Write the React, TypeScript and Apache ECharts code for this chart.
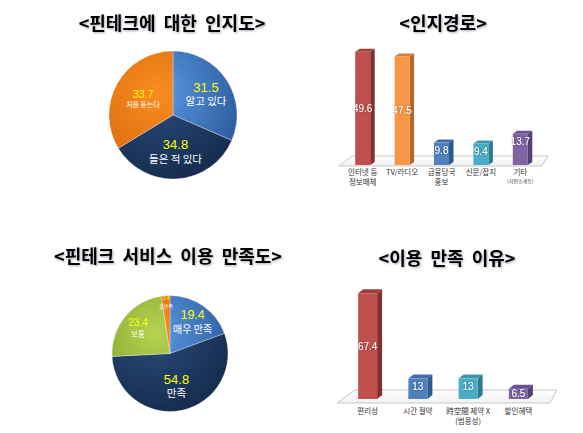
import React, { useEffect, useRef } from 'react';
import * as echarts from 'echarts';

// ---------- data ----------
const awarenessNames = ['알고 있다', '들은 적 있다', '처음 듣는다'];
const awarenessValues = [31.5, 34.8, 33.7];

const channelCategories = ['인터넷 등\n정보매체', 'TV/라디오', '금융당국\n홍보', '신문/잡지', '기타\n(지인소개등)'];
const channelValues = [49.6, 47.5, 9.8, 9.4, 13.7];

const satisfactionNames = ['매우 만족', '만족', '보통', '불만족'];
const satisfactionValues = [19.4, 54.8, 23.4, 2.4];

const reasonCategories = ['편리성', '시간 절약', '時空間 제약 X\n(범용성)', '할인혜택'];
const reasonValues = [67.4, 13, 13, 6.5];

const titles = ['<핀테크에  대한  인지도>', '<인지경로>', '<핀테크  서비스  이용  만족도>', '<이용  만족  이유>'];

// ---------- styles ----------
const KR = '"Noto Sans CJK KR", "Noto Sans", sans-serif';
const RED = ['#c0504d', '#82302e', '#a03f3c'];
const ORANGE = ['#f79646', '#b5672c', '#dd7f33'];
const BLUE = ['#4f81bd', '#2d5a8e', '#3f6ea7'];
const TEAL = ['#4bacc6', '#2c7a90', '#3a97b0'];
const PURPLE = ['#8064a2', '#553f75', '#6c5290'];
const channelColors = [RED, ORANGE, BLUE, TEAL, PURPLE];
const reasonColors = [RED, BLUE, TEAL, PURPLE];

const pieGrad = (cx: number, cy: number, r: number, light: string, dark: string) => ({
  type: 'radial',
  x: cx - 0.25 * r,
  y: cy - 0.35 * r,
  r: 1.35 * r,
  global: true,
  colorStops: [
    { offset: 0, color: light },
    { offset: 1, color: dark },
  ],
});

const PIE_BLUE = ['#5c9ae6', '#2e5e9f'];
const PIE_NAVY = ['#2a4c7c', '#172e50'];
const PIE_ORANGE = ['#f98c22', '#d9690a'];
const PIE_GREEN = ['#b6d350', '#7f9e2c'];

function bar3d(frontW: number, dx: number, dy: number, colors: string[][]) {
  return (params: any, api: any) => {
    const idx = api.value(0);
    const val = api.value(1);
    const base = api.coord([idx, 0]);
    const top = api.coord([idx, val]);
    const x0 = base[0] - frontW / 2;
    const x1 = base[0] + frontW / 2;
    const y0 = top[1];
    const y1 = base[1];
    const h = y1 - y0;
    const c = colors[params.dataIndex];
    const labelY = h > 40 ? (y0 + y1) / 2 : y0 + Math.min(h / 2, 8);
    return {
      type: 'group',
      children: [
        {
          type: 'polygon',
          shape: { points: [[x1, y0], [x1 + dx, y0 - dy], [x1 + dx, y1 - dy], [x1, y1]] },
          style: { fill: c[1] },
        },
        {
          type: 'polygon',
          shape: { points: [[x0, y0], [x0 + dx, y0 - dy], [x1 + dx, y0 - dy], [x1, y0]] },
          style: { fill: c[2] },
        },
        {
          type: 'rect',
          shape: { x: x0, y: y0, width: frontW, height: h },
          style: { fill: c[0] },
        },
        {
          type: 'text',
          x: base[0],
          y: labelY,
          style: {
            text: String(val),
            fill: '#ffffff',
            fontSize: 10,
            fontFamily: 'Arial, "Liberation Sans", sans-serif',
            align: 'center',
            verticalAlign: 'middle',
            textShadowColor: 'rgba(0,0,0,0.45)',
            textShadowBlur: 2,
          },
        },
      ],
    };
  };
}

function labelPie(
  center: number[],
  r: number,
  values: number[],
  names: string[],
  i: number,
  f: number,
  vSize: number,
  nSize: number
) {
  return {
    type: 'pie',
    center,
    radius: [0, 2 * f * r],
    startAngle: 90,
    clockwise: true,
    silent: true,
    z: 5,
    avoidLabelOverlap: false,
    itemStyle: { color: 'rgba(0,0,0,0)', borderWidth: 0 },
    labelLine: { show: false },
    emphasis: { disabled: true },
    label: {
      show: true,
      position: 'inside',
      formatter: (p: any) => `{v|${p.value}}\n{n|${p.name}}`,
      rich: {
        v: { fontSize: vSize, color: '#ffff00', fontFamily: 'Arial, "Liberation Sans", sans-serif', lineHeight: vSize + 2 },
        n: { fontSize: nSize, color: '#ffffff', fontFamily: KR, lineHeight: nSize + 2 },
      },
    },
    data: values.map((v, k) => ({ value: v, name: names[k], label: { show: k === i } })),
  };
}

export default function App() {
  const ref = useRef<HTMLDivElement>(null);

  useEffect(() => {
    document.body.style.margin = '0';
    if (!ref.current) return;
    const chart = echarts.init(ref.current, undefined, { renderer: 'svg' });

    const p1c = [173, 115];
    const p1r = 64;
    const p2c = [170, 353.5];
    const p2r = 58;

    const p1Colors = [PIE_BLUE, PIE_NAVY, PIE_ORANGE];
    const p2Colors = [PIE_BLUE, PIE_NAVY, PIE_GREEN, PIE_ORANGE];

    const titleStyle = (text: string, x: number, y: number) => ({
      type: 'text',
      x,
      y,
      z: 10,
      style: {
        text,
        fill: '#000000',
        font: `bold 18px ${KR}`,
        align: 'center',
        verticalAlign: 'middle',
        textAlign: 'center',
        textVerticalAlign: 'middle',
        textShadowColor: 'rgba(0,0,40,0.35)',
        textShadowBlur: 2,
        textShadowOffsetX: 1,
        textShadowOffsetY: 1,
      },
    });

    const floorFill = {
      type: 'linear',
      x: 0,
      y: 0,
      x2: 0,
      y2: 1,
      colorStops: [
        { offset: 0, color: '#ffffff' },
        { offset: 1, color: '#f1f1f1' },
      ],
    };

    const option: any = {
      animation: false,
      backgroundColor: '#ffffff',
      graphic: [
        titleStyle(titles[0], 172, 22),
        titleStyle(titles[1], 443, 22),
        titleStyle(titles[2], 168, 255),
        titleStyle(titles[3], 447, 257),
        {
          type: 'polygon',
          z: 0,
          shape: { points: [[339, 166], [352, 156], [548, 156], [542, 166]] },
          style: { fill: floorFill, stroke: '#c8c8c8', lineWidth: 1 },
        },
        {
          type: 'polygon',
          z: 0,
          shape: { points: [[337, 403], [355, 390], [557, 390], [550, 403]] },
          style: { fill: floorFill, stroke: '#c8c8c8', lineWidth: 1 },
        },
      ],
      grid: [
        { left: 343, width: 197, top: 28, height: 137 },
        { left: 342.5, width: 201, top: 273.4, height: 125.6 },
      ],
      xAxis: [
        {
          gridIndex: 0,
          type: 'category',
          data: channelCategories,
          axisLine: { show: false },
          axisTick: { show: false },
          axisLabel: {
            margin: 2,
            interval: 0,
            formatter: (v: string) => {
              const parts = v.split('\n');
              return parts
                .map((s, k) => (k > 0 && s.startsWith('(') ? `{s|${s}}` : `{m|${s}}`))
                .join('\n');
            },
            rich: {
              m: { fontSize: 7.5, color: '#333333', fontFamily: KR, lineHeight: 9.5 },
              s: { fontSize: 5, color: '#333333', fontFamily: KR, lineHeight: 8 },
            },
          },
        },
        {
          gridIndex: 1,
          type: 'category',
          data: reasonCategories,
          axisLine: { show: false },
          axisTick: { show: false },
          axisLabel: {
            margin: 7,
            interval: 0,
            fontSize: 7.5,
            lineHeight: 9.5,
            color: '#333333',
            fontFamily: KR,
          },
        },
      ],
      yAxis: [
        { gridIndex: 0, type: 'value', min: 0, max: 60, show: false },
        { gridIndex: 1, type: 'value', min: 0, max: 80, show: false },
      ],
      series: [
        {
          type: 'pie',
          center: p1c,
          radius: [0, p1r],
          startAngle: 90,
          clockwise: true,
          silent: true,
          label: { show: false },
          labelLine: { show: false },
          itemStyle: { borderColor: 'rgba(255,255,255,0.3)', borderWidth: 1 },
          data: awarenessValues.map((v, i) => ({
            value: v,
            name: awarenessNames[i],
            itemStyle: { color: pieGrad(p1c[0], p1c[1], p1r, p1Colors[i][0], p1Colors[i][1]) },
          })),
        },
        labelPie(p1c, p1r, awarenessValues, awarenessNames, 0, 0.57, 13, 10.5),
        labelPie(p1c, p1r, awarenessValues, awarenessNames, 1, 0.52, 13, 10.5),
        labelPie(p1c, p1r, awarenessValues, awarenessNames, 2, 0.49, 10.5, 7),
        {
          type: 'pie',
          center: p2c,
          radius: [0, p2r],
          startAngle: 90,
          clockwise: true,
          silent: true,
          label: { show: false },
          labelLine: { show: false },
          itemStyle: { borderColor: 'rgba(255,255,255,0.3)', borderWidth: 1 },
          data: satisfactionValues.map((v, i) => ({
            value: v,
            name: satisfactionNames[i],
            itemStyle: { color: pieGrad(p2c[0], p2c[1], p2r, p2Colors[i][0], p2Colors[i][1]) },
          })),
        },
        labelPie(p2c, p2r, satisfactionValues, satisfactionNames, 0, 0.63, 12.5, 10),
        labelPie(p2c, p2r, satisfactionValues, satisfactionNames, 1, 0.51, 13, 10.5),
        labelPie(p2c, p2r, satisfactionValues, satisfactionNames, 2, 0.66, 10, 7.5),
        labelPie(p2c, p2r, satisfactionValues, satisfactionNames, 3, 0.84, 5, 5),
        {
          type: 'custom',
          xAxisIndex: 0,
          yAxisIndex: 0,
          silent: true,
          renderItem: bar3d(15, 4.5, 3, channelColors),
          data: channelValues.map((v, i) => [i, v]),
          z: 3,
        },
        {
          type: 'custom',
          xAxisIndex: 1,
          yAxisIndex: 1,
          silent: true,
          renderItem: bar3d(19, 5, 4, reasonColors),
          data: reasonValues.map((v, i) => [i, v]),
          z: 3,
        },
      ],
    };

    chart.setOption(option);
    return () => chart.dispose();
  }, []);

  return (
    <div
      ref={ref}
      style={{ position: 'absolute', left: 0, top: 0, width: 583, height: 433, background: '#fff' }}
    />
  );
}
